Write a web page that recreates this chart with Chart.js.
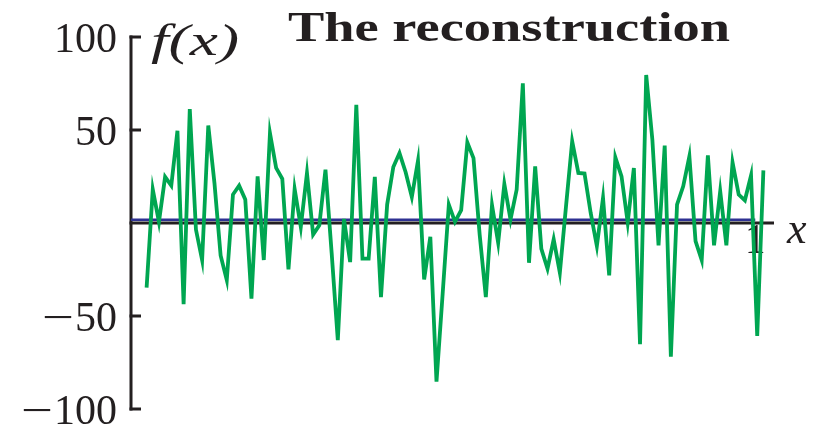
<!DOCTYPE html>
<html>
<head>
<meta charset="utf-8">
<script src="https://cdn.jsdelivr.net/npm/chart.js@4.4.1/dist/chart.umd.min.js"></script>
<style>
html, body { margin: 0; padding: 0; background: #fff; }
#wrap { width: 814px; height: 427px; }
</style>
</head>
<body>
<div id="wrap"><canvas id="chart" width="814" height="427"></canvas></div>
<script>
// =========================================
// DATOS
// =========================================
const valores = [
  -34.8, 18.0, 0.6, 24.8, 20.1, 49.6, -43.7, 61.2, -3.5, -19.9,
  52.4, 21.5, -17.4, -30.7, 15.3, 20.1, 12.6, -40.7, 25.1, -19.9,
  48.3, 29.6, 23.7, -24.9, 18.3, -2.1, 26.9, -6.2, -1.2, 28.7,
  -16.0, -63.0, 2.2, -21.0, 63.5, -19.2, -19.2, 24.8, -39.8, 9.9,
  30.1, 37.6, 27.3, 14.0, 33.5, -30.3, -7.4, -85.3, -38.0, 9.9,
  0.6, 6.9, 43.3, 34.9, -6.2, -39.8, 9.6, -10.6, 21.0, 1.9,
  18.0, 75.1, -21.4, 30.5, -13.9, -24.6, -8.8, -26.7, 9.0, 43.9,
  26.9, 26.6, 5.4, -12.4, 13.5, -28.2, 35.3, 25.1, 0.3, 29.6,
  -65.1, 79.6, 44.8, -12.1, 41.6, -71.9, 9.9, 19.7, 35.8, -9.7,
  -19.9, 36.4, -12.0, 17.1, -12.0, 32.6, 15.3, 12.2, 25.6, -60.7,
  28.3
];

// posiciones de muestreo (malla regular)
const xInicio = 0.025;
const xPaso = 0.00988;

// nivel medio (linea azul)
const nivelMedio = 1.8;
const nivelDesde = 0;
const nivelHasta = 1;

const yTicks = [100, 50, -50, -100];
const xTicks = [1];

const titulo = 'The reconstruction';
const etiquetaY = 'f(x)';
const etiquetaX = 'x';

const puntos = valores.map((v, i) => ({ x: xInicio + i * xPaso, y: v }));
const lineaMedia = [
  { x: nivelDesde, y: nivelMedio },
  { x: nivelHasta, y: nivelMedio }
];

// =========================================
// TEXTO
// =========================================
const SERIF = '"Liberation Serif", "DejaVu Serif", serif';
const TINTA = '#231f20';

function texto(ctx, str, font, x, y, align, ancho){
  ctx.save();
  ctx.font = font;
  ctx.fillStyle = TINTA;
  ctx.textAlign = 'left';
  ctx.textBaseline = 'alphabetic';
  const w = ctx.measureText(str).width;
  const s = ancho ? ancho / w : 1;
  const ww = w * s;
  const x0 = align === 'right' ? x - ww : align === 'center' ? x - ww / 2 : x;
  ctx.translate(x0, y);
  ctx.scale(s, 1);
  ctx.fillText(str, 0, 0);
  ctx.restore();
  return ww;
}

// =========================================
// EJES
// =========================================
const ejes = {
  id: 'ejes',
  beforeDatasetsDraw(chart){
    const ctx = chart.ctx;
    const sx = chart.scales.x;
    const sy = chart.scales.y;
    const x0 = sx.getPixelForValue(0);
    const y0 = sy.getPixelForValue(0);
    const yTop = sy.getPixelForValue(100);
    const yBot = sy.getPixelForValue(-100);

    ctx.save();
    ctx.strokeStyle = TINTA;
    ctx.lineWidth = 3;
    ctx.lineCap = 'butt';

    // eje y
    ctx.beginPath();
    ctx.moveTo(x0, yTop - 1.5);
    ctx.lineTo(x0, yBot + 1.5);
    ctx.stroke();

    // marcas hacia dentro
    yTicks.forEach(v => {
      const py = sy.getPixelForValue(v);
      ctx.beginPath();
      ctx.moveTo(x0 - 1.5, py);
      ctx.lineTo(x0 + 10, py);
      ctx.stroke();
    });

    // eje x
    ctx.beginPath();
    ctx.moveTo(x0 - 1.5, y0);
    ctx.lineTo(sx.right, y0);
    ctx.stroke();
    ctx.restore();

    // etiquetas eje y
    yTicks.forEach(v => {
      const py = sy.getPixelForValue(v) + 15;
      const num = String(Math.abs(v));
      const w = texto(ctx, num, '42px ' + SERIF, 117, py, 'right');
      if (v < 0) {
        texto(ctx, '\u2212', '42px ' + SERIF, 117 - w - 1, py, 'right', 32);
      }
    });

    // etiquetas eje x
    xTicks.forEach(v => {
      texto(ctx, String(v), '42px ' + SERIF, sx.getPixelForValue(v), y0 + 30, 'center');
    });

    texto(ctx, etiquetaY, 'italic 44px ' + SERIF, 151, 55, 'left', 88);
    texto(ctx, etiquetaX, 'italic 44px ' + SERIF, 787, 243, 'left');
    texto(ctx, titulo, 'bold 42px ' + SERIF, 288, 41, 'left', 442);
  }
};

// =========================================
// GRAFICO
// =========================================
new Chart(document.getElementById('chart'), {

  type: 'line',

  data: {
    datasets: [
      {
        label: 'reconstruction',
        data: puntos,
        borderColor: '#00a651',
        borderWidth: 3.8,
        pointRadius: 0,
        tension: 0,
        fill: false
      },
      {
        label: 'mean',
        data: lineaMedia,
        borderColor: '#2e3192',
        borderWidth: 2.5,
        pointRadius: 0,
        fill: false
      }
    ]
  },

  options: {
    responsive: false,
    animation: false,
    devicePixelRatio: 1,
    layout: {
      padding: { left: 131, right: 40, top: 37, bottom: 18 }
    },
    plugins: {
      legend: { display: false },
      tooltip: { enabled: false }
    },
    scales: {
      x: { type: 'linear', min: 0, max: 1.03, display: false },
      y: { type: 'linear', min: -100, max: 100, display: false }
    }
  },

  plugins: [ejes]

});
</script>
</body>
</html>
